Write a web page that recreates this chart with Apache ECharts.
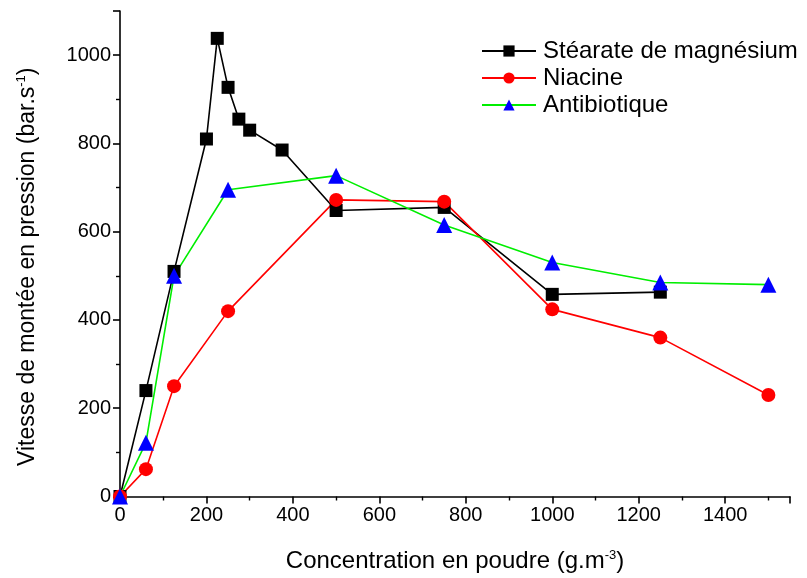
<!DOCTYPE html>
<html><head><meta charset="utf-8">
<script src="https://cdn.jsdelivr.net/npm/echarts@6/dist/echarts.min.js"></script>
<style>html,body{margin:0;padding:0;background:#fff}#c{width:807px;height:578px}</style>
</head><body><div id="c"></div>
<script>
const stearateX = [0, 60, 125, 200, 225, 250, 275, 300, 375, 500, 750, 1000, 1250];
const stearateY = [0, 240, 510, 810, 1038, 927, 855, 830, 785, 648, 655, 458, 463];
const niacineX = [0, 60, 125, 250, 500, 750, 1000, 1250, 1500];
const niacineY = [0, 62, 250, 420, 672, 668, 424, 360, 230];
const antibioX = [0, 60, 125, 250, 500, 750, 1000, 1250, 1500];
const antibioY = [0, 122, 500, 695, 727, 615, 530, 485, 480];
const names = ['Stéarate de magnésium', 'Niacine', 'Antibiotique'];

const pair = (xs, ys) => xs.map((x, i) => [x, ys[i]]);
const font = 'Liberation Sans, Arial, sans-serif';
const axisCommon = () => ({
  axisLine: {show: true, lineStyle: {color: '#000', width: 1.6}},
  axisTick: {show: true, inside: false, length: 7, lineStyle: {color: '#000', width: 1.6}},
  minorTick: {show: true, splitNumber: 2, length: 4, lineStyle: {color: '#000', width: 1.4}},
  splitLine: {show: false},
  axisLabel: {color: '#000', fontSize: 20, fontFamily: font, margin: 9,
    showMaxLabel: false, formatter: v => String(v)}
});
const supStyle = {fontSize: 13, verticalAlign: 'top', padding: [0,0,12,0], fontFamily: font, color: '#000'};
const chart = echarts.init(document.getElementById('c'));
chart.setOption({
  animation: false,
  grid: {left: 120, right: 17, top: 11, bottom: 79},
  legend: {
    top: 34, left: 476, orient: 'vertical', itemGap: 3, itemWidth: 54, itemHeight: 14,
    textStyle: {fontSize: 24, fontFamily: font, color: '#000', padding: [0,0,0,2]},
    data: names
  },
  xAxis: Object.assign({
    type: 'value', min: 0, max: 1550, interval: 200,
    name: 'Concentration en poudre (g.m{sup|-3})', nameLocation: 'middle', nameGap: 52,
    nameTextStyle: {fontSize: 24, fontFamily: font, color: '#000', rich: {sup: supStyle}}
  }, axisCommon()),
  yAxis: Object.assign({
    type: 'value', min: 0, max: 1100, interval: 200,
    name: 'Vitesse de montée en pression (bar.s{sup|-1})', nameLocation: 'middle', nameGap: 80,
    nameTextStyle: {fontSize: 23, fontFamily: font, color: '#000', padding: [0, 26, 0, 0], rich: {sup: supStyle}}
  }, axisCommon()),
  series: [
    {name: names[0], type: 'line', data: pair(stearateX, stearateY), symbol: 'rect', symbolSize: 13,
     itemStyle: {color: '#000'}, lineStyle: {color: '#000', width: 1.6}},
    {name: names[1], type: 'line', data: pair(niacineX, niacineY), symbol: 'circle', symbolSize: 14,
     itemStyle: {color: '#ff0000'}, lineStyle: {color: '#ff0000', width: 1.6}},
    {name: names[2], type: 'line', data: pair(antibioX, antibioY), symbol: 'triangle', symbolSize: 16,
     itemStyle: {color: '#0000ff'}, lineStyle: {color: '#00ee00', width: 1.6}}
  ]
});
</script></body></html>
